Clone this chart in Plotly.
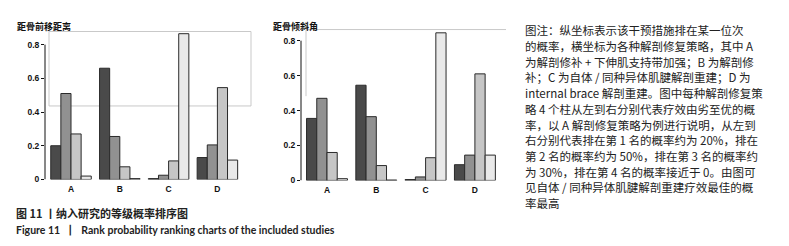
import plotly.graph_objects as go

W, H = 789, 246

strategies = ["A", "B", "C", "D"]
rank_names = ["第1名", "第2名", "第3名", "第4名"]

# 距骨前移距离 (left chart): probability of each rank, per strategy
left_rank1 = [0.20, 0.66, 0.005, 0.13]
left_rank2 = [0.51, 0.255, 0.025, 0.205]
left_rank3 = [0.27, 0.075, 0.11, 0.545]
left_rank4 = [0.02, 0.005, 0.865, 0.115]

# 距骨倾斜角 (right chart)
right_rank1 = [0.355, 0.545, 0.005, 0.09]
right_rank2 = [0.47, 0.365, 0.02, 0.145]
right_rank3 = [0.16, 0.085, 0.13, 0.61]
right_rank4 = [0.01, 0.002, 0.845, 0.145]

y_ticks = [0, 0.2, 0.4, 0.6, 0.8]
y_tick_labels = ["0", "0.2", "0.4", "0.6", "0.8"]

left_title = "距骨前移距离"
right_title = "距骨倾斜角"

note_lines = [
    "图注：纵坐标表示该干预措施排在某一位次",
    "的概率，横坐标为各种解剖修复策略，其中 A",
    "为解剖修补 + 下伸肌支持带加强；B 为解剖修",
    "补；C 为自体 / 同种异体肌腱解剖重建；D 为",
    "internal brace 解剖重建。图中每种解剖修复策",
    "略 4 个柱从左到右分别代表疗效由劣至优的概",
    "率，以 A 解剖修复策略为例进行说明，从左到",
    "右分别代表排在第 1 名的概率约为 20%，排在",
    "第 2 名的概率约为 50%，排在第 3 名的概率约",
    "为 30%，排在第 4 名的概率接近于 0。由图可",
    "见自体 / 同种异体肌腱解剖重建疗效最佳的概",
    "率最高",
]
caption_cn = "图 11 丨纳入研究的等级概率排序图"
caption_en = "Figure 11  丨  Rank probability ranking charts of the included studies"

bar_colors = ["#4a4a4a", "#919191", "#c6c6c6", "#e9e9e9"]

def px_x(p):
    return p / W

def px_y(p):
    return 1 - p / H

fig = go.Figure()
left_series = [left_rank1, left_rank2, left_rank3, left_rank4]
right_series = [right_rank1, right_rank2, right_rank3, right_rank4]
for i, vals in enumerate(left_series):
    fig.add_trace(go.Bar(x=strategies, y=vals, name=rank_names[i], xaxis="x", yaxis="y",
                         marker=dict(color=bar_colors[i], line=dict(color="#2a2a2a", width=1)),
                         showlegend=False))
for i, vals in enumerate(right_series):
    fig.add_trace(go.Bar(x=strategies, y=vals, name=rank_names[i], xaxis="x2", yaxis="y2",
                         marker=dict(color=bar_colors[i], line=dict(color="#2a2a2a", width=1)),
                         showlegend=False))

tickfont = dict(family="Liberation Sans", size=8.5, color="#111", weight="bold")

def xaxis_cfg(x0, x1, c0, step):
    return dict(domain=[px_x(x0), px_x(x1)], range=[(x0 - c0) / step, (x1 - c0) / step],
                showline=False, zeroline=False, showgrid=False, ticks="outside",
                ticklen=1, tickcolor="rgba(0,0,0,0)", tickfont=tickfont, fixedrange=True)

def yaxis_cfg(bottom, top, anchor):
    return dict(domain=[px_y(bottom), px_y(top)], range=[0, 0.88], anchor=anchor,
                showline=False, zeroline=False, showgrid=False, tickvals=y_ticks,
                ticktext=y_tick_labels, ticks="outside", ticklen=3, tickcolor="#111",
                tickwidth=1, tickfont=tickfont, fixedrange=True)

fig.update_layout(
    width=W, height=H, margin=dict(l=0, r=0, t=0, b=0),
    paper_bgcolor="white", plot_bgcolor="white",
    barmode="group", bargap=0.17, bargroupgap=0,
    xaxis=dict(**xaxis_cfg(37, 240, 63, 48.8), anchor="y"),
    yaxis=yaxis_cfg(175, 175 - 0.88 * 172, "x"),
    xaxis2=dict(**xaxis_cfg(293, 500, 319, 49.3), anchor="y2"),
    yaxis2=yaxis_cfg(176, 176 - 0.88 * 178.3, "x2"),
)

# y-axis lines spanning 0..0.8
fig.add_shape(type="line", xref="x domain", yref="y", x0=0, x1=0, y0=0, y1=0.8,
              line=dict(color="#111", width=1))
fig.add_shape(type="line", xref="x2 domain", yref="y2", x0=0, x1=0, y0=0, y1=0.8,
              line=dict(color="#111", width=1))

# faint grey frame lines
grey = dict(color="#c9c9c9", width=1)
fig.add_shape(type="rect", xref="paper", yref="paper", x0=px_x(41), x1=px_x(243),
              y0=px_y(100), y1=px_y(24), line=grey, layer="below")
fig.add_shape(type="line", xref="paper", yref="paper", x0=px_x(298), x1=px_x(498),
              y0=px_y(22), y1=px_y(22), line=grey, layer="below")
fig.add_shape(type="line", xref="paper", yref="paper", x0=px_x(298), x1=px_x(298),
              y0=px_y(22), y1=px_y(90), line=grey, layer="below")

title_font = dict(family="Noto Sans CJK SC", size=9, color="#111", weight="bold")
fig.add_annotation(text=left_title, x=px_x(7), y=px_y(19), xref="paper", yref="paper",
                   xanchor="left", yanchor="middle", showarrow=False, font=title_font)
fig.add_annotation(text=right_title, x=px_x(263), y=px_y(19), xref="paper", yref="paper",
                   xanchor="left", yanchor="middle", showarrow=False, font=title_font)

note_font = dict(family="Noto Sans CJK SC", size=11.5, color="#222")
for i, line in enumerate(note_lines):
    fig.add_annotation(text=line, x=px_x(515), y=px_y(22.7 + i * 16.05), xref="paper",
                       yref="paper", xanchor="left", yanchor="middle", showarrow=False,
                       font=note_font)

fig.add_annotation(text=caption_cn, x=px_x(6), y=px_y(209), xref="paper", yref="paper",
                   xanchor="left", yanchor="middle", showarrow=False,
                   font=dict(family="Noto Sans CJK SC", size=11, color="#222", weight="bold"))
fig.add_annotation(text=caption_en, x=px_x(6), y=px_y(226.5), xref="paper", yref="paper",
                   xanchor="left", yanchor="middle", showarrow=False,
                   font=dict(family="Lato", size=10.5, color="#222", weight="bold"))

fig.write_html("out.html")
